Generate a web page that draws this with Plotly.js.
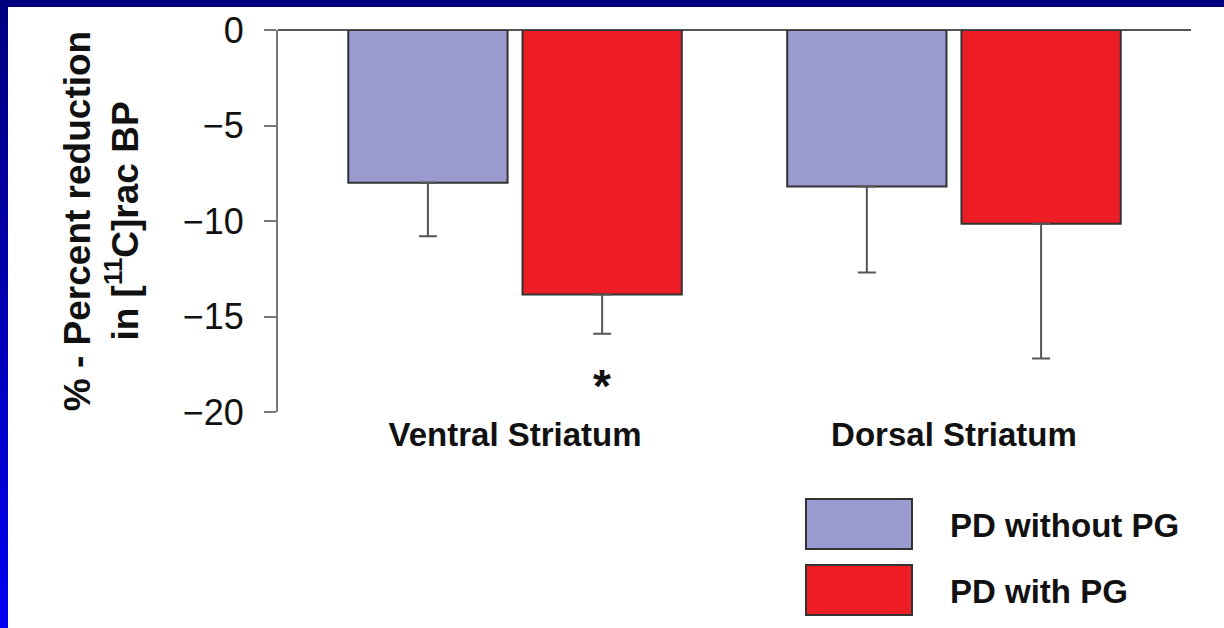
<!DOCTYPE html>
<html>
<head>
<meta charset="utf-8">
<script src="https://cdn.plot.ly/plotly-3.0.1.min.js"></script>
<style>
  html, body { margin: 0; padding: 0; width: 1224px; height: 628px; overflow: hidden;
    background: linear-gradient(to bottom, #000080 0%, #0000a8 40%, #0000f2 100%); }
  #chart { position: absolute; left: 8px; top: 7px; width: 1216px; height: 621px; background: #fff; }
</style>
</head>
<body>
<div id="chart"></div>
<script>
// ---- data ----
const categories = ['Ventral Striatum', 'Dorsal Striatum'];
const seriesNames = ['PD without PG', 'PD with PG'];
const withoutPG = [-8.0, -8.2];
const withoutPGErr = [2.8, 4.5];
const withPG = [-13.85, -10.15];
const withPGErr = [2.05, 7.05];
const yTicks = [0, -5, -10, -15, -20];
const significance = ['*', ''];

// ---- styles ----
const colors = ['#9a9ad0', '#ee1c25'];
const FONT = 'Liberation Sans, Arial, sans-serif';
const W = 1216, H = 621;
const margin = { l: 270, r: 33, t: 23, b: 216 };
const plotW = W - margin.l - margin.r, plotH = H - margin.t - margin.b;
const px2x = p => (p - margin.l) / plotW;
const px2y = p => (H - margin.b - p) / plotH;

function barTrace(name, y, err, color) {
  return {
    type: 'bar', name: name, x: categories, y: y,
    marker: { color: color, line: { color: '#333', width: 2 } },
    error_y: { type: 'data', symmetric: false, array: y.map(() => 0), arrayminus: err,
      color: '#555', thickness: 2, width: 9 },
    showlegend: false, hoverinfo: 'x+y+name'
  };
}

const data = [
  barTrace(seriesNames[0], withoutPG, withoutPGErr, colors[0]),
  barTrace(seriesNames[1], withPG, withPGErr, colors[1])
];

// custom legend (large swatches)
const legendBoxes = [[492, 542], [558, 608]];
const shapes = [];
const annotations = [];
seriesNames.forEach((n, i) => {
  shapes.push({ type: 'rect', xref: 'paper', yref: 'paper',
    x0: px2x(798), x1: px2x(904), y0: px2y(legendBoxes[i][0]), y1: px2y(legendBoxes[i][1]),
    fillcolor: colors[i], line: { color: '#333', width: 2 } });
  annotations.push({ xref: 'paper', yref: 'paper', x: px2x(940), y: px2y((legendBoxes[i][0] + legendBoxes[i][1]) / 2 + 1),
    xanchor: 'left', yanchor: 'middle', text: '<b>' + n + '</b>', showarrow: false,
    font: { family: FONT, size: 33, color: '#111' } });
});
// significance marker
significance.forEach((s, i) => {
  if (!s) return;
  annotations.push({ xref: 'x', yref: 'y', x: i + 0.198, y: withPG[i] - withPGErr[i], yshift: -52,
    text: '<b>' + s + '</b>', showarrow: false, font: { family: FONT, size: 46, color: '#111' } });
});

const layout = {
  width: W, height: H, margin: margin,
  paper_bgcolor: '#fff', plot_bgcolor: '#fff',
  font: { family: FONT, color: '#111' },
  barmode: 'group', bargap: 0.206, bargroupgap: 0.086,
  xaxis: { range: [-0.54, 1.54], showline: false, showgrid: false, zeroline: false,
    ticks: '', tickfont: { family: FONT, size: 33, color: '#111', weight: 'bold' },
    ticklabelstandoff: 0, fixedrange: true },
  yaxis: { range: [-20, 0], tickvals: yTicks, showgrid: false,
    showline: true, linecolor: '#777', linewidth: 2,
    ticks: 'outside', ticklen: 12, tickwidth: 2, tickcolor: '#777',
    tickfont: { family: FONT, size: 36, color: '#111' }, ticklabelstandoff: 13,
    zeroline: true, zerolinecolor: '#555', zerolinewidth: 2,
    title: { text: '<b>% - Percent reduction<br>in [<sup>11</sup>C]rac BP</b>',
      font: { family: FONT, size: 37, color: '#111' }, standoff: 33 },
    automargin: false, fixedrange: true },
  shapes: shapes, annotations: annotations
};

Plotly.newPlot('chart', data, layout, { displayModeBar: false, staticPlot: true });
</script>
</body>
</html>
